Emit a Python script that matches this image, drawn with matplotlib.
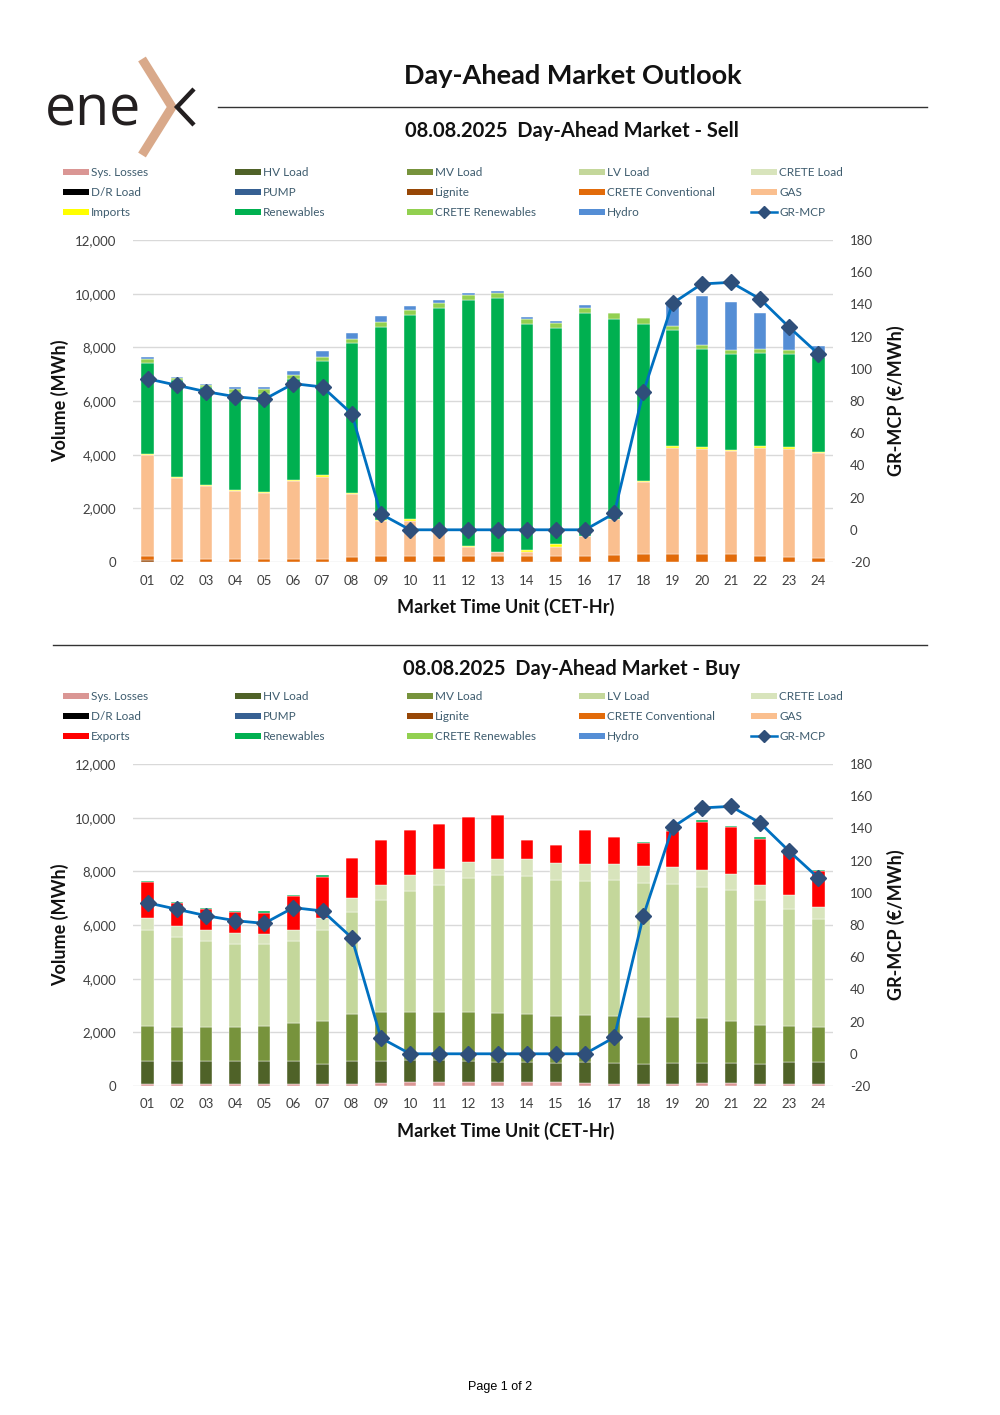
import matplotlib
matplotlib.use("Agg")
import matplotlib.pyplot as plt
import numpy as np
from matplotlib.patches import Rectangle
from matplotlib.lines import Line2D

plt.rcParams['axes.unicode_minus'] = False

# ---------------- DATA ----------------
hours = ['01', '02', '03', '04', '05', '06', '07', '08', '09', '10', '11', '12',
         '13', '14', '15', '16', '17', '18', '19', '20', '21', '22', '23', '24']

# Sell side (MWh)
sell_lignite = [60, 0, 0, 0, 0, 0, 0, 0, 0, 0, 0, 0, 0, 0, 0, 0, 0, 0, 0, 0, 0, 0, 0, 0]
sell_crete_conv = [165, 110, 110, 110, 110, 110, 125, 187, 224, 236, 236, 236,
                   236, 236, 224, 224, 261, 298, 298, 298, 286, 236, 199, 137]
sell_gas = [3768, 3024, 2713, 2540, 2452, 2912, 3059, 2363, 1306, 1306, 834, 324,
            150, 150, 348, 746, 1356, 2675, 3943, 3906, 3856, 4030, 4030, 3918]
sell_imports = [50, 50, 37, 37, 50, 38, 50, 37, 37, 50, 37, 37,
                0, 74, 100, 0, 0, 49, 100, 75, 49, 50, 50, 62]
sell_renewables = [3370, 3607, 3645, 3607, 3657, 3768, 4266, 5560, 7202, 7612, 8358, 9154,
                   9452, 8408, 8047, 8309, 7450, 5846, 4316, 3669, 3570, 3483, 3482, 3507]
sell_crete_ren = [162, 60, 75, 161, 174, 150, 149, 161, 186, 199, 187, 187,
                  187, 199, 199, 199, 212, 212, 149, 149, 149, 149, 149, 100]
sell_hydro = [62, 30, 50, 62, 62, 149, 199, 212, 224, 149, 124, 87,
              75, 75, 75, 87, 0, 0, 844, 1803, 1779, 1331, 871, 336]

# Buy side (MWh)
buy_sys_losses = [75, 62, 62, 62, 62, 62, 62, 87, 100, 149, 149, 149,
                  149, 149, 137, 124, 87, 75, 87, 100, 100, 87, 75, 62]
buy_hv = [858, 858, 871, 871, 883, 871, 771, 846, 833, 834, 834, 796,
          747, 747, 721, 759, 759, 758, 759, 746, 746, 734, 808, 821]
buy_mv = [1293, 1294, 1281, 1281, 1294, 1405, 1605, 1754, 1816, 1791, 1791, 1829,
          1828, 1791, 1766, 1754, 1754, 1754, 1716, 1679, 1579, 1443, 1356, 1331]
buy_lv = [3582, 3333, 3184, 3085, 3035, 3072, 3370, 3793, 4179, 4490, 4714, 4962,
          5137, 5136, 5050, 5012, 5062, 4975, 4950, 4900, 4876, 4664, 4365, 4005]
buy_crete = [436, 411, 398, 385, 385, 411, 461, 535, 572, 584, 597, 597,
             609, 635, 622, 610, 622, 647, 635, 635, 597, 560, 523, 448]
buy_exports = [1343, 858, 796, 796, 796, 1244, 1530, 1492, 1667, 1704, 1691, 1692,
               1642, 696, 684, 1293, 995, 846, 1355, 1791, 1754, 1728, 1667, 1355]
buy_renewables = [50, 37, 37, 37, 50, 49, 49, 0, 0, 0, 0, 0,
                  0, 0, 0, 0, 0, 37, 50, 49, 37, 50, 25, 38]

# GR-MCP (EUR/MWh)
mcp = [93.8, 89.8, 85.8, 82.7, 81.0, 90.8, 88.7, 72.1, 9.8, 0.0, 0.0, 0.0,
       0.0, 0.0, 0.0, 0.0, 10.2, 85.8, 140.7, 152.7, 153.7, 143.4, 125.8, 109.2]

# ---------------- STYLE ----------------
C = {
    'Sys. Losses': '#DA9694', 'HV Load': '#4F6228', 'MV Load': '#77933C',
    'LV Load': '#C4D79B', 'CRETE Load': '#D8E4BC', 'D/R Load': '#000000',
    'PUMP': '#366092', 'Lignite': '#974706', 'CRETE Conventional': '#E26B0A',
    'GAS': '#FABF8F', 'Imports': '#FFFF00', 'Exports': '#FF0000',
    'Renewables': '#00B050', 'CRETE Renewables': '#92D050', 'Hydro': '#558ED5',
}
LINE_C = '#0070C0'
MARK_C = '#2F4F7A'
TICK_C = '#404040'
LEG_TXT = '#3E5C6E'
FONT = 'Lato'

W, H = 1000, 1415
fig = plt.figure(figsize=(W / 100, H / 100), dpi=100)


def fx(x):
    return x / W


def fy(y):
    return 1 - y / H


# ---------------- LOGO ----------------
fig.text(fx(45), fy(125), 'ene', fontsize=40, family='Open Sans', weight='normal',
         color='#231F20', ha='left', va='baseline')
fig.add_artist(Line2D([fx(142), fx(172), fx(142)], [fy(59), fy(107), fy(155)],
                      transform=fig.transFigure, color='#D9A98A', lw=6.5,
                      solid_joinstyle='miter', solid_capstyle='butt'))
fig.add_artist(Line2D([fx(194), fx(177), fx(194)], [fy(89), fy(107), fy(125)],
                      transform=fig.transFigure, color='#231F20', lw=3.2,
                      solid_joinstyle='miter', solid_capstyle='butt'))

# ---------------- HEADERS ----------------
fig.text(fx(573), fy(76), 'Day-Ahead Market Outlook', fontsize=19.5, weight='bold',
         family=FONT, ha='center', va='center', color='#111111')
fig.add_artist(Line2D([fx(218), fx(927)], [fy(107), fy(107)], transform=fig.transFigure,
                      color='#333333', lw=1.0))
fig.text(fx(572), fy(131), '08.08.2025  Day-Ahead Market - Sell', fontsize=14.5,
         weight='bold', family=FONT, ha='center', va='center', color='#111111')
fig.add_artist(Line2D([fx(53), fx(927)], [fy(645), fy(645)], transform=fig.transFigure,
                      color='#333333', lw=1.0))
fig.text(fx(572), fy(669), '08.08.2025  Day-Ahead Market - Buy', fontsize=14.5,
         weight='bold', family=FONT, ha='center', va='center', color='#111111')
fig.text(fx(500), fy(1387), 'Page 1 of 2', fontsize=9, family='Liberation Sans',
         ha='center', va='center', color='#000000')


# ---------------- LEGENDS ----------------
def draw_legend(entries, y0):
    cols = [63, 235, 407, 579, 751]
    rows = [y0, y0 + 20, y0 + 40]
    for i, (label, kind) in enumerate(entries):
        r, c = divmod(i, 5)
        x, y = cols[c], rows[r]
        if kind == 'line':
            fig.add_artist(Line2D([fx(x), fx(x + 26)], [fy(y), fy(y)],
                                  transform=fig.transFigure, color=LINE_C, lw=1.8))
            fig.add_artist(Line2D([fx(x + 13)], [fy(y)], transform=fig.transFigure,
                                  marker='D', markersize=6, color=MARK_C, lw=0))
        else:
            fig.add_artist(Rectangle((fx(x), fy(y + 3)), 26 / W, 6 / H,
                                     transform=fig.transFigure, color=C[label], lw=0))
        fig.text(fx(x + 28), fy(y), label, fontsize=8.5, family=FONT,
                 color=LEG_TXT, ha='left', va='center')


sell_leg = [('Sys. Losses', 'p'), ('HV Load', 'p'), ('MV Load', 'p'), ('LV Load', 'p'),
            ('CRETE Load', 'p'), ('D/R Load', 'p'), ('PUMP', 'p'), ('Lignite', 'p'),
            ('CRETE Conventional', 'p'), ('GAS', 'p'), ('Imports', 'p'), ('Renewables', 'p'),
            ('CRETE Renewables', 'p'), ('Hydro', 'p'), ('GR-MCP', 'line')]
buy_leg = [e if e[0] != 'Imports' else ('Exports', 'p') for e in sell_leg]
draw_legend(sell_leg, 172)
draw_legend(buy_leg, 696)


# ---------------- CHARTS ----------------
def make_chart(top_px, stacks):
    bottom_px = top_px + 322
    ax = fig.add_axes([fx(133), fy(bottom_px), 700 / W, 322 / H])
    x = np.arange(len(hours))
    base = np.zeros(len(hours))
    for name, vals in stacks:
        v = np.array(vals, dtype=float)
        ax.bar(x, v, bottom=base, width=0.42, color=C[name], edgecolor='white',
               linewidth=0.3, zorder=3)
        base += v
    ax.set_xlim(-0.5, len(hours) - 0.5)
    ax.set_ylim(0, 12000)
    ax.set_yticks(np.arange(0, 12001, 2000))
    ax.set_yticklabels([f'{v:,}' for v in range(0, 12001, 2000)])
    ax.set_xticks(x)
    ax.set_xticklabels(hours)
    ax.yaxis.grid(True, color='#D9D9D9', lw=1.0, zorder=0)
    ax.set_axisbelow(True)
    for s in ax.spines.values():
        s.set_visible(False)
    ax.tick_params(axis='both', length=0, labelsize=9.5, labelcolor=TICK_C)
    ax.tick_params(axis='y', pad=12)
    ax.tick_params(axis='x', pad=9)
    for t in ax.get_xticklabels() + ax.get_yticklabels():
        t.set_fontfamily(FONT)

    ax2 = ax.twinx()
    ax2.plot(x, mcp, color=LINE_C, lw=2.0, marker='D', markersize=8,
             markerfacecolor=MARK_C, markeredgecolor=MARK_C, zorder=5)
    ax2.set_ylim(-20, 180)
    ax2.set_yticks(np.arange(-20, 181, 20))
    for s in ax2.spines.values():
        s.set_visible(False)
    ax2.tick_params(axis='y', length=0, labelsize=9.5, labelcolor=TICK_C, pad=12)
    for t in ax2.get_yticklabels():
        t.set_fontfamily(FONT)

    mid = (top_px + bottom_px) / 2
    fig.text(fx(60), fy(mid), 'Volume (MWh)', rotation=90, fontsize=13, weight='bold',
             family=FONT, ha='center', va='center', color='#111111')
    fig.text(fx(896), fy(mid), 'GR-MCP (€/MWh)', rotation=90, fontsize=13, weight='bold',
             family=FONT, ha='center', va='center', color='#111111')
    fig.text(fx(506), fy(bottom_px + 45), 'Market Time Unit (CET-Hr)', fontsize=13,
             weight='bold', family=FONT, ha='center', va='center', color='#111111')
    return ax


make_chart(240, [('Lignite', sell_lignite), ('CRETE Conventional', sell_crete_conv),
                 ('GAS', sell_gas), ('Imports', sell_imports),
                 ('Renewables', sell_renewables), ('CRETE Renewables', sell_crete_ren),
                 ('Hydro', sell_hydro)])
make_chart(764, [('Sys. Losses', buy_sys_losses), ('HV Load', buy_hv), ('MV Load', buy_mv),
                 ('LV Load', buy_lv), ('CRETE Load', buy_crete), ('Exports', buy_exports),
                 ('Renewables', buy_renewables)])

fig.savefig('out.png', dpi=100)
